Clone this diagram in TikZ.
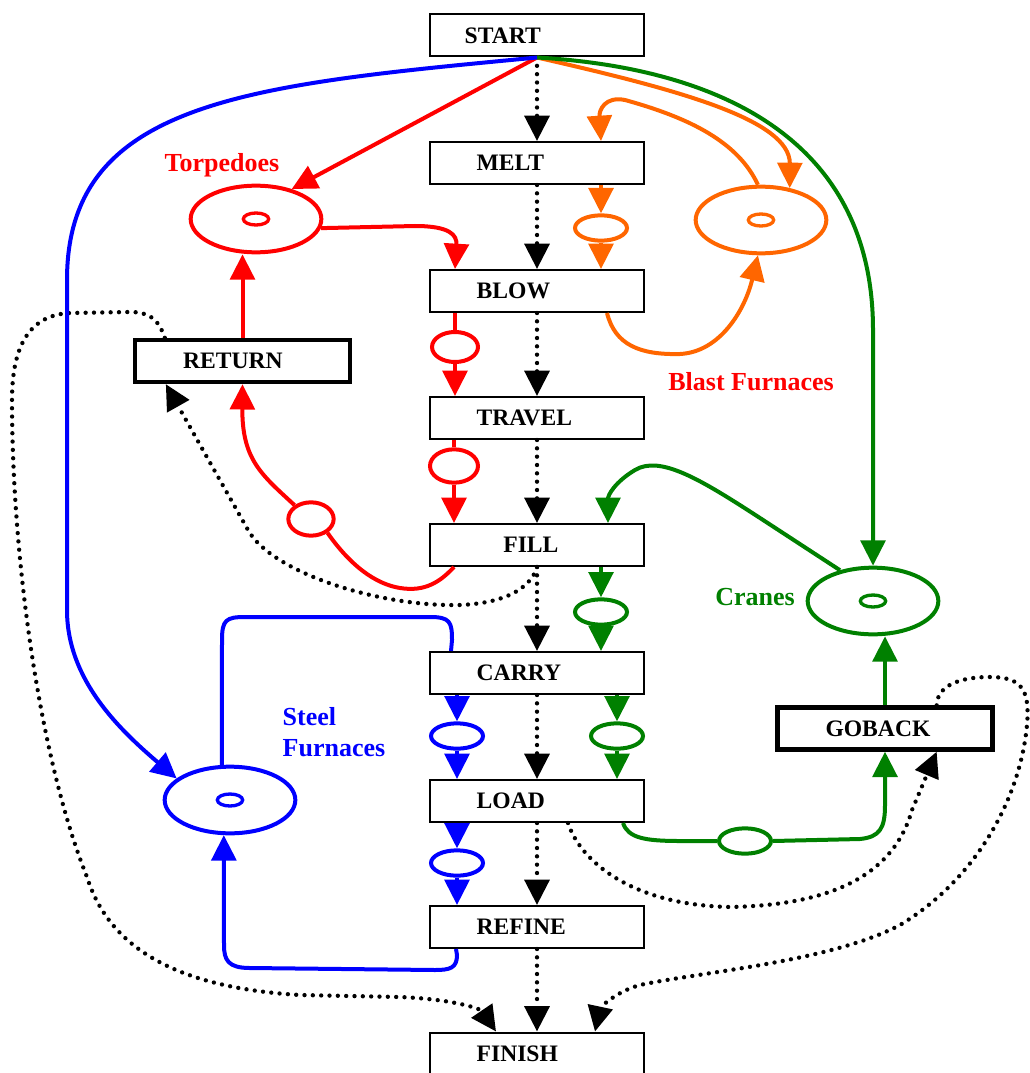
\documentclass[tikz,border=0pt]{standalone}
\usepackage{fontspec}
\setmainfont{Liberation Serif}
\usetikzlibrary{arrows.meta,shapes.geometric,calc}

\definecolor{colTorp}{RGB}{255,0,0}
\definecolor{colBlast}{RGB}{255,102,0}
\definecolor{colCrane}{RGB}{0,128,0}
\definecolor{colSteel}{RGB}{0,0,255}

\tikzset{every picture/.style={line width=0.75pt}}
\tikzset{
	>={Triangle[length=19pt,width=18.5pt]},
	trans/.style={draw, rectangle, line width=1.5pt, minimum width=160.5pt, minimum height=31.5pt,
		inner xsep=35pt, text width=90.5pt, align=left, font=\fontsize{17.7}{20}\selectfont\bfseries},
	heavytrans/.style={trans, line width=3.25pt, inner xsep=36pt, text width=89.25pt},
	place/.style={ellipse, draw, line width=3pt, minimum width=98pt, minimum height=50pt, inner sep=0pt},
	token/.style={ellipse, draw, line width=2.5pt, minimum width=19pt, minimum height=9pt, inner sep=0pt},
	cond/.style={ellipse, draw, line width=3pt, minimum width=39pt, minimum height=19pt, inner sep=0pt},
	lbl/.style={font=\fontsize{19.5}{23}\selectfont\bfseries, inner sep=0pt},
	arc/.style={line width=3pt},
	flow/.style={line width=3.25pt, dash pattern=on 0pt off 6.25pt, line cap=round}
}

\begin{document}
\begin{tikzpicture}[x=0.75pt,y=0.75pt,yscale=-1,xscale=1]
		\useasboundingbox (0,0) rectangle (1029,1073);
		
		%Transitions
		\node[trans] (start) at (537,35.5) {\hspace*{-9pt}START};
		\node[trans] (melt) at (537,163) {MELT};
		\node[trans] (blow) at (537,291) {BLOW};
		\node[trans] (travel) at (537,418) {TRAVEL};
		\node[trans] (filling) at (537,545) {\hspace*{20pt}FILL};
		\node[trans] (carry) at (537,673) {CARRY};
		\node[trans] (load) at (537,801) {LOAD};
		\node[trans] (refine) at (537,927) {REFINE};
		\node[trans] (finish) at (537,1053.5) {FINISH};
		\node[heavytrans] (return) at (242.5,361) {RETURN};
		\node[heavytrans] (goback) at (885,728.5) {GOBACK};
		
		%Places
		\node[place, draw=colTorp] (torp) at (256,219) {};
		\node[token, draw=colTorp] (torptok) at (torp) {};
		\node[place, draw=colBlast] (blast) at (761,220) {};
		\node[token, draw=colBlast] (blasttok) at (blast) {};
		\node[place, draw=colCrane] (cranes) at (873,601) {};
		\node[token, draw=colCrane] (cranestok) at (cranes) {};
		\node[place, draw=colSteel] (steel) at (230,800) {};
		\node[token, draw=colSteel] (steeltok) at (steel) {};
		
		%Conditions
		\node[cond, draw=colBlast] (oc) at (601,228) {};
		\node[cond, draw=colTorp, minimum width=34.5pt, minimum height=22.5pt] (rc1) at (455,347) {};
		\node[cond, draw=colTorp, minimum width=36pt, minimum height=25pt] (rc2) at (454,466) {};
		\node[cond, draw=colTorp, minimum width=34pt, minimum height=25pt] (rc3) at (311,519) {};
		\node[cond, draw=colCrane] (gc1) at (601,612) {};
		\node[cond, draw=colCrane] (gc2) at (617,736) {};
		\node[cond, draw=colCrane] (gc3) at (745,841) {};
		\node[cond, draw=colSteel] (bc1) at (457,736) {};
		\node[cond, draw=colSteel] (bc2) at (457,863) {};
		
		%Labels
		\node[lbl, text=colTorp] (torplbl) at (222,165) {Torpedoes};
		\node[lbl, text=colTorp] (blastlbl) at (751,382) {Blast Furnaces};
		\node[lbl, text=colCrane] (craneslbl) at (755,597) {Cranes};
		\node[lbl, text=colSteel, align=left] (steellbl) at (334,732) {Steel\\Furnaces};
		
		%Control flow
		\draw[flow,->] (start) -- (melt);
		\draw[flow,->] (melt) -- (blow);
		\draw[flow,->] (blow) -- (travel);
		\draw[flow,->] (travel) -- (filling);
		\draw[flow,->] (filling) -- (carry);
		\draw[flow,->] (carry) -- (load);
		\draw[flow,->] (load) -- (refine);
		\draw[flow,->] (refine) -- (finish);
		\draw[flow,->] ($(return.north west)+(32,0)$) .. controls (158,318) and (148,312) .. (130,312) -- (70,313) .. controls (30,315) and (12,345) .. (12,400) .. controls (12,560) and (40,760) .. (87,877) .. controls (110,950) and (180,988) .. (300,995) -- (400,997) .. controls (450,999) and (480,1008) .. ($(finish.north west)+(67,0)$);
		\draw[flow,->] (filling.south) .. controls (532,585) and (510,603) .. (460,605) .. controls (380,607) and (272,573) .. (248,530) -- ($(return.south west)+(33,0)$);
		\draw[flow,->] ($(load.south)+(31,0)$) .. controls (580,860) and (630,905) .. (730,907) .. controls (840,905) and (895,870) .. (912,810) -- ($(goback.south east)+(-58,0)$);
		\draw[flow,->] ($(goback.north east)+(-58,0)$) .. controls (937,688) and (955,677) .. (990,677) .. controls (1022,677) and (1030,690) .. (1027,725) .. controls (1020,800) and (975,880) .. (900,925) .. controls (830,962) and (700,972) .. (640,985) .. controls (615,992) and (600,1008) .. ($(finish.north east)+(-50,0)$);
		
		%Torpedoes
		\draw[arc, colTorp,->] (start.south) -- (torp.40);
		\draw[arc, colTorp,->] (torp.-8) -- (415,226) .. controls (450,226) and (457,235) .. (rc1 |- blow.north);
		\draw[arc, colTorp,->] (return.north) -- (return.north |- torp.south);
		\draw[arc, colTorp] (rc1 |- blow.south) -- (rc1.north);
		\draw[arc, colTorp,->] (rc1.south) -- (rc1 |- travel.north);
		\draw[arc, colTorp] (rc2 |- travel.south) -- (rc2.north);
		\draw[arc, colTorp,->] (rc2.south) -- (rc2 |- filling.north);
		\draw[arc, colTorp] (rc2 |- filling.south) .. controls (440,582) and (425,592) .. (400,588) .. controls (375,584) and (350,565) .. (rc3.-40);
		\draw[arc, colTorp,->] (rc3.140) .. controls (262,475) and (242,460) .. (return.south);
		
		%Blast furnaces
		\draw[arc, colBlast,->] (start.south) .. controls (680,90) and (790,120) .. (blast.48);
		\draw[arc, colBlast,->] (blast.95) .. controls (738,142) and (690,118) .. (625,100) .. controls (605,96) and (599,110) .. (oc |- melt.north);
		\draw[arc, colBlast,->] (oc |- melt.south) -- (oc.north);
		\draw[arc, colBlast,->] (oc.south) -- (oc |- blow.north);
		\draw[arc, colBlast,->] ($(blow.south east)+(-38,0)$) .. controls (615,345) and (640,355) .. (680,354) .. controls (720,352) and (745,310) .. (blast.265);
		
		%Cranes
		\draw[arc, colCrane,->] (start.south) .. controls (720,68) and (873,140) .. (873,330) -- (cranes.north);
		\draw[arc, colCrane,->] (cranes.137) -- (760,518) .. controls (700,479) and (660,455) .. (635,470) .. controls (615,482) and (608,495) .. ($(filling.north east)+(-37,0)$);
		\draw[arc, colCrane,->] (gc1 |- filling.south) -- (gc1.north);
		\draw[arc, colCrane,->] (gc1.south) -- (gc1 |- carry.north);
		\draw[arc, colCrane,->] (gc2 |- carry.south) -- (gc2.north);
		\draw[arc, colCrane,->] (gc2.south) -- (gc2 |- load.north);
		\draw[arc, colCrane] ($(load.south east)+(-22,0)$) .. controls (628,838) and (645,841) .. (680,841) -- (gc3.west);
		\draw[arc, colCrane,->] (gc3.east) -- (860,839) .. controls (880,837) and (885,828) .. (885,805) -- (goback.south);
		\draw[arc, colCrane,->] (goback.north) -- (goback.north |- cranes.south);
		
		%Steel furnaces
		\draw[arc, colSteel,->] (start.south) .. controls (250,85) and (67,100) .. (67,280) -- (67,610) .. controls (67,680) and (120,730) .. (steel.158);
		\draw[arc, colSteel,->] (bc1 |- carry.south) -- (bc1.north);
		\draw[arc, colSteel,->] (bc1.south) -- (bc1 |- load.north);
		\draw[arc, colSteel,->] (bc2 |- load.south) -- (bc2.north);
		\draw[arc, colSteel,->] (bc2.south) -- (bc2 |- refine.north);
		\draw[arc, colSteel] (steel.103) -- (222,640) .. controls (222,620) and (226,617) .. (245,617) -- (430,617) .. controls (450,617) and (452,622) .. (452,640) -- ($(carry.north west)+(22,0)$);
		\draw[arc, colSteel,->] ($(refine.south west)+(27,0)$) -- (457,955) .. controls (457,968) and (450,970) .. (435,970) -- (250,968) .. controls (228,968) and (224,960) .. (224,945) -- (steel.260);
		
\end{tikzpicture}
\end{document}
